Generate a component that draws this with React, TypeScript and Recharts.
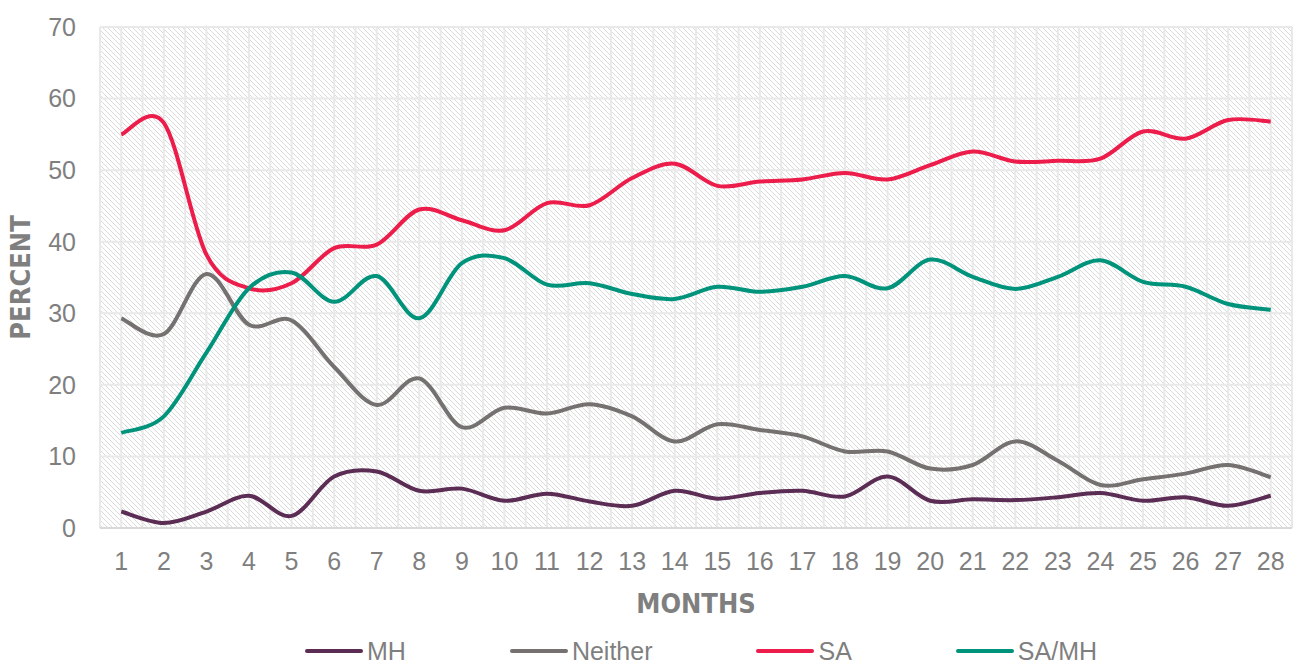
import { CartesianGrid, Legend, Line, LineChart, XAxis, YAxis } from "recharts"

const months = [1, 2, 3, 4, 5, 6, 7, 8, 9, 10, 11, 12, 13, 14, 15, 16, 17, 18, 19, 20, 21, 22, 23, 24, 25, 26, 27, 28]
const mh = [2.3, 0.7, 2.3, 4.5, 1.7, 7.2, 7.9, 5.2, 5.5, 3.8, 4.8, 3.7, 3.1, 5.2, 4.1, 4.9, 5.2, 4.4, 7.2, 3.8, 4.0, 3.9, 4.3, 4.9, 3.8, 4.3, 3.1, 4.5]
const neither = [29.3, 27.1, 35.5, 28.4, 29.0, 22.5, 17.2, 20.9, 14.1, 16.8, 16.0, 17.3, 15.6, 12.1, 14.5, 13.7, 12.8, 10.7, 10.7, 8.3, 8.8, 12.1, 9.4, 6.0, 6.8, 7.6, 8.8, 7.1]
const sa = [55.0, 56.6, 38.2, 33.5, 34.2, 39.1, 39.6, 44.5, 43.0, 41.6, 45.4, 45.1, 48.9, 50.9, 47.8, 48.4, 48.7, 49.6, 48.7, 50.7, 52.6, 51.2, 51.3, 51.6, 55.4, 54.4, 57.0, 56.8]
const samh = [13.3, 15.6, 24.5, 33.5, 35.7, 31.6, 35.2, 29.3, 37.0, 37.7, 34.0, 34.2, 32.7, 32.0, 33.7, 33.0, 33.7, 35.2, 33.5, 37.5, 35.1, 33.4, 35.1, 37.4, 34.4, 33.7, 31.3, 30.5]
const yTicks = [0, 10, 20, 30, 40, 50, 60, 70]

const series = [
  { key: "MH", values: mh, color: "#5b2c54" },
  { key: "Neither", values: neither, color: "#767171" },
  { key: "SA", values: sa, color: "#ec1c4b" },
  { key: "SA/MH", values: samh, color: "#00937c" },
]

const data = months.map((m, i) => {
  const row: Record<string, number> = { month: m }
  series.forEach((s) => (row[s.key] = s.values[i]))
  return row
})

const GRAY = "#7f7f7f"
const FONT = "'Liberation Sans', Arial, sans-serif"
const TITLE_FONT = "'Liberation Sans Narrow', 'DejaVu Sans Condensed', sans-serif"

// Excel-like smoothed line (Catmull-Rom as cubic bezier)
function smoothCurve(context: any) {
  let pts: number[][] = []
  return {
    areaStart() {},
    areaEnd() {},
    lineStart() {
      pts = []
    },
    point(x: number, y: number) {
      pts.push([+x, +y])
    },
    lineEnd() {
      if (!pts.length) return
      context.moveTo(pts[0][0], pts[0][1])
      for (let i = 0; i < pts.length - 1; i++) {
        const p0 = pts[i - 1] || pts[i]
        const p1 = pts[i]
        const p2 = pts[i + 1]
        const p3 = pts[i + 2] || p2
        context.bezierCurveTo(
          p1[0] + (p2[0] - p0[0]) / 6,
          p1[1] + (p2[1] - p0[1]) / 6,
          p2[0] - (p3[0] - p1[0]) / 6,
          p2[1] - (p3[1] - p1[1]) / 6,
          p2[0],
          p2[1]
        )
      }
    },
  }
}

function LegendContent() {
  return (
    <div
      style={{
        height: 44,
        boxSizing: "border-box",
        paddingTop: 22,
        paddingLeft: 305,
        display: "flex",
        alignItems: "center",
        gap: 104,
        fontFamily: FONT,
        fontSize: 25,
        color: GRAY,
      }}
    >
      {series.map((s) => (
        <div key={s.key} style={{ display: "flex", alignItems: "center", height: 24 }}>
          <span style={{ display: "inline-block", width: 58, height: 4, borderRadius: 2, background: s.color, marginRight: 4 }} />
          <span>{s.key}</span>
        </div>
      ))}
    </div>
  )
}

export default function App() {
  return (
    <div style={{ position: "absolute", left: 0, top: 0, width: 1302, height: 662, background: "#fff" }}>
      <LineChart width={1302} height={662} data={data} margin={{ top: 27, right: 10, left: 0, bottom: 0 }}>
        <defs>
          <pattern id="hatch" patternUnits="userSpaceOnUse" width="5" height="5">
            <rect width="5" height="5" fill="#ffffff" />
            <path d="M0,0 L5,5 M-1,4 L1,6 M4,-1 L6,1" stroke="#dadada" strokeWidth="1" />
          </pattern>
        </defs>
        <CartesianGrid
          fill="url(#hatch)"
          fillOpacity={1}
          stroke="#e9e9e9"
          strokeWidth={2}
          verticalCoordinatesGenerator={({ offset }: any) =>
            Array.from({ length: 57 }, (_, i) => offset.left + (offset.width * i) / 56)
          }
        />
        <XAxis
          dataKey="month"
          type="number"
          domain={[0.5, 28.5]}
          ticks={months}
          interval={0}
          height={90}
          tickSize={0}
          tickMargin={24}
          tickLine={false}
          axisLine={{ stroke: "#d9d9d9", strokeWidth: 2 }}
          tick={{ fill: GRAY, fontSize: 25, fontFamily: FONT }}
          label={{
            value: "MONTHS",
            position: "insideBottom",
            offset: 5,
            style: { fill: GRAY, fontSize: 27, fontWeight: 700, fontFamily: TITLE_FONT },
          }}
        />
        <YAxis
          domain={[0, 70]}
          ticks={yTicks}
          width={100}
          tickSize={0}
          tickMargin={24}
          tickLine={false}
          axisLine={false}
          tick={{ fill: GRAY, fontSize: 25, fontFamily: FONT }}
          label={{
            value: "PERCENT",
            angle: -90,
            position: "insideLeft",
            offset: 20,
            style: { fill: GRAY, fontSize: 27, fontWeight: 700, fontFamily: TITLE_FONT, textAnchor: "middle" },
          }}
        />
        <Legend verticalAlign="bottom" align="left" content={LegendContent} />
        {series.map((s) => (
          <Line
            key={s.key}
            type={smoothCurve as any}
            dataKey={s.key}
            stroke={s.color}
            strokeWidth={4}
            dot={false}
            activeDot={false}
            isAnimationActive={false}
          />
        ))}
      </LineChart>
    </div>
  )
}
